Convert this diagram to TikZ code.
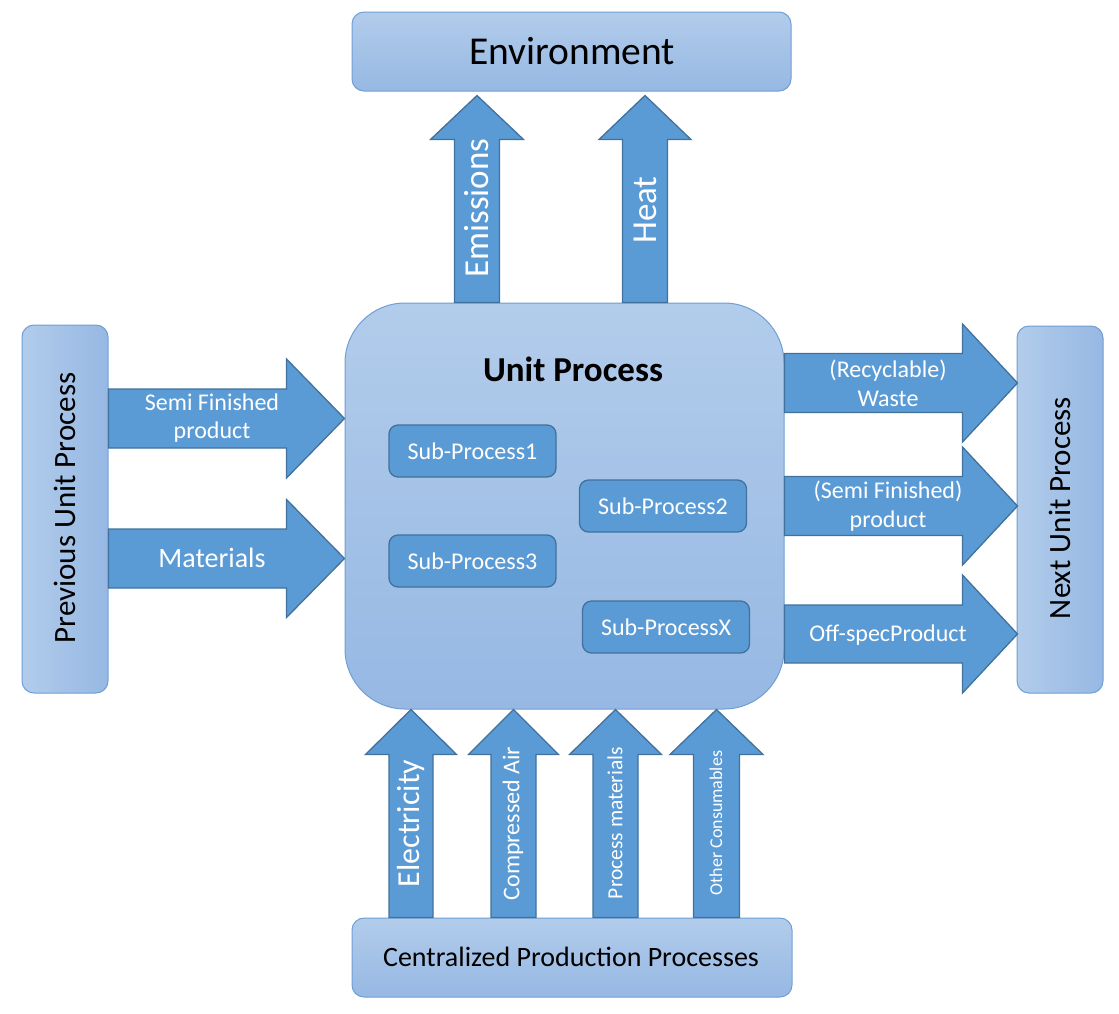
\documentclass[tikz,border=0pt]{standalone}
\usepackage{fontspec}
\setmainfont{Carlito}
\usetikzlibrary{calc}
\definecolor{arrfill}{HTML}{5B9BD5}
\definecolor{arrline}{HTML}{41719C}
\definecolor{boxtop}{HTML}{B2CCEB}
\definecolor{boxbot}{HTML}{96B8E3}
\definecolor{boxline}{HTML}{6F9FD6}
\tikzset{
 bigbox/.style={draw=boxline, line width=1pt, rounded corners=12pt, top color=boxtop, bottom color=boxbot, inner sep=0pt},
 sidebox/.style={draw=boxline, line width=1pt, rounded corners=12pt, left color=boxtop, right color=boxbot, inner sep=0pt},
 subbox/.style={draw=arrline, line width=1.3pt, fill=arrfill, rounded corners=9pt, text=white, minimum width=167pt, minimum height=52pt, inner sep=0pt, font=\fontsize{24}{29}\selectfont},
 blk/.style={draw=arrline, line width=1.3pt, fill=arrfill, line join=miter},
 lbl/.style={text=white, align=center, inner sep=0pt},
 blbl/.style={text=black, align=center, inner sep=0pt},
}
% up arrow from #1 (bottom) to #2 (tip); #3 shaft half width, #4 head half width, #5 head length
\newcommand\uarr[5]{\draw[blk] let \p1=(#1), \p2=(#2) in
 (\x1-#3,\y1) -- (\x1-#3,\y2-#5) -- (\x1-#4,\y2-#5) -- (\x1,\y2) -- (\x1+#4,\y2-#5) -- (\x1+#3,\y2-#5) -- (\x1+#3,\y1) -- cycle;}
% right arrow from #1 (start) to #2 (tip)
\newcommand\rarr[5]{\draw[blk] let \p1=(#1), \p2=(#2) in
 (\x1,\y1-#3) -- (\x2-#5,\y1-#3) -- (\x2-#5,\y1-#4) -- (\x2,\y1) -- (\x2-#5,\y1+#4) -- (\x2-#5,\y1+#3) -- (\x1,\y1+#3) -- cycle;}
\begin{document}
\begin{tikzpicture}[x=1pt,y=-1pt]
\useasboundingbox (0,0) rectangle (1119,1013);
\fill[white] (0,0) rectangle (1119,1013);
% boxes
\node[bigbox, minimum width=439pt, minimum height=79pt] (env) at (571.5,51.5) {};
\node[blbl, font=\fontsize{39.5}{47}\selectfont] (envt) at (572,51) {Environment};
\node[bigbox, rounded corners=60pt, minimum width=439pt, minimum height=406pt] (unit) at (564.5,506) {};
\node[blbl, font=\fontsize{35}{42}\selectfont\bfseries] (unitt) at (573,369) {Unit Process};
\node[sidebox, minimum width=86pt, minimum height=368pt] (prev) at (65,509) {};
\node[blbl, rotate=90, font=\fontsize{31}{38}\selectfont] (prevt) at (65,508) {Previous Unit Process};
\node[sidebox, minimum width=86pt, minimum height=367pt] (next) at (1060,509.5) {};
\node[blbl, rotate=90, font=\fontsize{31}{38}\selectfont] (nextt) at (1060,508) {Next Unit Process};
\node[bigbox, minimum width=440pt, minimum height=79pt] (cent) at (572,957.5) {};
\node[blbl, font=\fontsize{28}{34}\selectfont] (centt) at (571,957) {Centralized Production Processes};
% sub processes
\node[subbox] (sp1) at (472.5,451) {Sub-Process1};
\node[subbox] (sp2) at (663,506) {Sub-Process2};
\node[subbox] (sp3) at (472.5,561) {Sub-Process3};
\node[subbox] (spx) at (666,627) {Sub-ProcessX};
% anchor coordinates for block arrows
\coordinate (em0) at (477,0 |- unit.north);
\path (477,0 |- env.south) ++(0,4) coordinate (em1);
\coordinate (he0) at (645,0 |- unit.north);
\path (645,0 |- env.south) ++(0,4) coordinate (he1);
\coordinate (sf0) at (prev.east |- 0,418.5);
\coordinate (sf1) at (unit.west |- 0,418.5);
\coordinate (ma0) at (prev.east |- 0,558.5);
\coordinate (ma1) at (unit.west |- 0,558.5);
\coordinate (wa0) at (unit.east |- 0,383);
\path (next.west |- 0,383) ++(1,0) coordinate (wa1);
\coordinate (pr0) at (unit.east |- 0,506);
\path (next.west |- 0,506) ++(1,0) coordinate (pr1);
\coordinate (of0) at (unit.east |- 0,634);
\path (next.west |- 0,634) ++(1,0) coordinate (of1);
\coordinate (el0) at (411,0 |- cent.north);
\coordinate (el1) at (411,0 |- unit.south);
\coordinate (ca0) at (513.5,0 |- cent.north);
\coordinate (ca1) at (513.5,0 |- unit.south);
\coordinate (pm0) at (615.5,0 |- cent.north);
\coordinate (pm1) at (615.5,0 |- unit.south);
\coordinate (oc0) at (716.5,0 |- cent.north);
\coordinate (oc1) at (716.5,0 |- unit.south);
% block arrows
\uarr{em0}{em1}{22.5pt}{46.5pt}{44pt}
\uarr{he0}{he1}{22.5pt}{46pt}{44pt}
\rarr{sf0}{sf1}{29.5pt}{59.5pt}{58pt}
\rarr{ma0}{ma1}{29.5pt}{59pt}{58pt}
\rarr{wa0}{wa1}{29.5pt}{59pt}{55pt}
\rarr{pr0}{pr1}{29.5pt}{59pt}{55pt}
\rarr{of0}{of1}{29pt}{59pt}{55pt}
\uarr{el0}{el1}{22pt}{45.5pt}{45pt}
\uarr{ca0}{ca1}{22.5pt}{45pt}{45pt}
\uarr{pm0}{pm1}{22.5pt}{46pt}{45pt}
\uarr{oc0}{oc1}{23pt}{46.5pt}{45pt}
% arrow labels
\node[lbl, rotate=90, font=\fontsize{35}{42}\selectfont] (emt) at (477,208) {Emissions};
\node[lbl, rotate=90, font=\fontsize{35}{42}\selectfont] (het) at (645,210) {Heat};
\node[lbl, font=\fontsize{24}{28}\selectfont] (sft) at (212,418) {Semi Finished\\product};
\node[lbl, font=\fontsize{28}{34}\selectfont] (mat) at (212,558) {Materials};
\node[lbl, font=\fontsize{24}{29}\selectfont] (wat) at (888,383) {(Recyclable)\\Waste};
\node[lbl, font=\fontsize{24}{29}\selectfont] (prt) at (888,506) {(Semi Finished)\\product};
\node[lbl, font=\fontsize{24}{29}\selectfont] (oft) at (888,635) {Off-specProduct};
\node[lbl, rotate=90, font=\fontsize{32}{38}\selectfont] (elt) at (411,823.5) {Electricity};
\node[lbl, rotate=90, font=\fontsize{24}{29}\selectfont] (cat) at (513,823.5) {Compressed Air};
\node[lbl, rotate=90, font=\fontsize{21.5}{26}\selectfont] (pmt) at (615,823) {Process materials};
\node[lbl, rotate=90, font=\fontsize{18}{22}\selectfont] (oct) at (716,823) {Other Consumables};
\end{tikzpicture}
\end{document}
